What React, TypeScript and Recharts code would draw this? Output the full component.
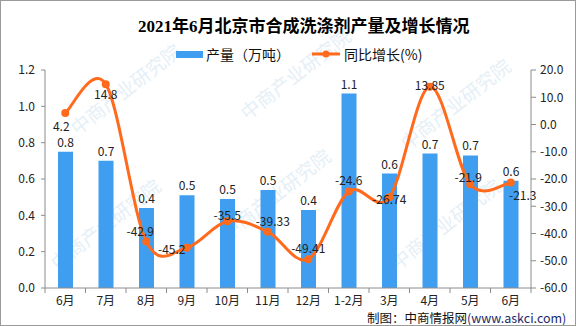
import React from "react";
import {
  ComposedChart,
  Bar,
  Line,
  XAxis,
  YAxis,
  LabelList,
} from "recharts";

// categories and series
const months = ["6月", "7月", "8月", "9月", "10月", "11月", "12月", "1-2月", "3月", "4月", "5月", "6月"];
const output = [0.75, 0.7, 0.44, 0.51, 0.49, 0.54, 0.43, 1.07, 0.63, 0.74, 0.73, 0.59];
const growth = [4.2, 14.8, -42.9, -45.2, -35.5, -39.33, -49.41, -24.6, -26.74, 13.85, -21.9, -21.3];
const leftTicks = [0, 0.2, 0.4, 0.6, 0.8, 1.0, 1.2];
const rightTicks = [-60, -50, -40, -30, -20, -10, 0, 10, 20];

// manual placement of the growth labels (dx, dy from the point)
const growthLabelShift: [number, number][] = [
  [-4, 12], [0, 9], [-6, -11], [-15, 1], [0, -7], [5, -11],
  [0, -12], [0, -12], [0, 1], [0, -2], [-2, -8], [12, 12],
];

const data = months.map((m, i) => ({ month: m, output: output[i], growth: growth[i] }));

const BLUE = "#3F9EEF";
const ORANGE = "#FF6A1C";
const AXIS = "#8c8c8c";
const FONT = "'Noto Sans CJK SC', sans-serif";

// Excel-ish smoothing: catmull-rom through every point
const smoothCurve = (context: any) => {
  let pts: number[][] = [];
  return {
    areaStart() {},
    areaEnd() {},
    lineStart() {
      pts = [];
    },
    point(x: number, y: number) {
      pts.push([+x, +y]);
    },
    lineEnd() {
      if (!pts.length) return;
      context.moveTo(pts[0][0], pts[0][1]);
      for (let i = 0; i < pts.length - 1; i++) {
        const p0 = pts[i - 1] || pts[i];
        const p1 = pts[i];
        const p2 = pts[i + 1];
        const p3 = pts[i + 2] || p2;
        context.bezierCurveTo(
          p1[0] + (p2[0] - p0[0]) / 6,
          p1[1] + (p2[1] - p0[1]) / 6,
          p2[0] - (p3[0] - p1[0]) / 6,
          p2[1] - (p3[1] - p1[1]) / 6,
          p2[0],
          p2[1]
        );
      }
    },
  };
};

const XTick = (props: any) => {
  const { x, y, payload, index } = props;
  const half = 20.25;
  return (
    <g>
      {index === 0 && <line x1={x - half} y1={y} x2={x - half} y2={y + 5} stroke={AXIS} />}
      <line x1={x + half} y1={y} x2={x + half} y2={y + 5} stroke={AXIS} />
      <text x={x} y={y + 17} textAnchor="middle" fontSize={12} fill="#222" fontFamily={FONT}>
        {payload.value}
      </text>
    </g>
  );
};

const GrowthLabel = (props: any) => {
  const { x, y, value, index } = props;
  const [dx, dy] = growthLabelShift[index] || [0, -10];
  return (
    <text
      x={x + dx}
      y={y + dy}
      textAnchor="middle"
      dominantBaseline="central"
      fontSize={12}
      fill="#222"
      fontFamily={FONT}
    >
      {value}
    </text>
  );
};

const watermarks = [
  [130, 95], [300, 80], [460, 110],
  [110, 230], [280, 200], [450, 230],
];

export default function App() {
  return (
    <div
      style={{
        position: "absolute",
        left: 0,
        top: 0,
        width: 576,
        height: 326,
        background: "#fff",
        boxSizing: "border-box",
        border: "1px solid #9a9a9a",
        fontFamily: FONT,
        overflow: "hidden",
      }}
    >
      <svg width={576} height={326} style={{ position: "absolute", left: -1, top: -1 }}>
        {watermarks.map(([x, y], i) => (
          <text
            key={i}
            x={x}
            y={y}
            transform={`rotate(-38 ${x} ${y})`}
            textAnchor="middle"
            fontSize={19}
            fill="#e6eff6"
            fontFamily={FONT}
          >
            中商产业研究院
          </text>
        ))}
      </svg>
      <div style={{ position: "absolute", left: -1, top: -1 }}>
        <ComposedChart
          width={576}
          height={326}
          data={data}
          margin={{ top: 70, right: 0, bottom: 0, left: 0 }}
        >
          <XAxis
            dataKey="month"
            xAxisId="x"
            height={38}
            axisLine={{ stroke: AXIS }}
            tickLine={false}
            tickSize={0}
            tickMargin={0}
            tick={<XTick />}
            interval={0}
          />
          <YAxis
            yAxisId="left"
            width={45}
            domain={[0, 1.2]}
            ticks={leftTicks}
            tickFormatter={(v: number) => v.toFixed(1)}
            axisLine={{ stroke: AXIS }}
            tickLine={{ stroke: AXIS }}
            tickSize={4}
            tickMargin={6}
            tick={{ fontSize: 12, fill: "#222", fontFamily: FONT }}
            interval={0}
          />
          <YAxis
            yAxisId="right"
            orientation="right"
            width={45}
            domain={[-60, 20]}
            ticks={rightTicks}
            tickFormatter={(v: number) => v.toFixed(1)}
            axisLine={{ stroke: AXIS }}
            tickLine={{ stroke: AXIS }}
            tickSize={5}
            tickMargin={4}
            tick={{ fontSize: 12, fill: "#222", fontFamily: FONT }}
            interval={0}
          />
          <Bar
            dataKey="output"
            xAxisId="x"
            yAxisId="left"
            fill={BLUE}
            barSize={15}
            isAnimationActive={false}
          >
            <LabelList
              dataKey="output"
              position="top"
              offset={5}
              formatter={(v: any) => Number(v).toFixed(1)}
              style={{ fontSize: 12, fill: "#222", fontFamily: FONT }}
            />
          </Bar>
          <Line
            dataKey="growth"
            xAxisId="x"
            yAxisId="right"
            type={smoothCurve as any}
            stroke={ORANGE}
            strokeWidth={3}
            dot={{ r: 4, fill: ORANGE, stroke: ORANGE, strokeWidth: 0 }}
            isAnimationActive={false}
          >
            <LabelList dataKey="growth" content={<GrowthLabel />} />
          </Line>
        </ComposedChart>
      </div>
      <div
        style={{
          position: "absolute",
          left: 137,
          top: 14,
          fontSize: 17,
          fontWeight: "bold",
          fontFamily: "'Liberation Serif', 'Noto Sans CJK SC', serif",
          color: "#000",
          whiteSpace: "nowrap",
          lineHeight: "24px",
        }}
      >
        2021年6月北京市合成洗涤剂产量及增长情况
      </div>
      <div
        style={{
          position: "absolute",
          left: 175,
          top: 43,
          display: "flex",
          alignItems: "center",
          fontSize: 14,
          color: "#111",
          whiteSpace: "nowrap",
          lineHeight: "20px",
        }}
      >
        <span style={{ width: 27, height: 7, background: BLUE, display: "inline-block", marginRight: 3 }} />
        <span>产量（万吨）</span>
        <svg width={30} height={10} style={{ marginLeft: 22, marginRight: 2 }}>
          <line x1={0} y1={5} x2={28} y2={5} stroke={ORANGE} strokeWidth={3} />
          <circle cx={14} cy={5} r={3.5} fill={ORANGE} />
        </svg>
        <span>同比增长(%)</span>
      </div>
      <div
        style={{
          position: "absolute",
          left: 366,
          top: 310,
          fontSize: 12.5,
          color: "#111",
          whiteSpace: "nowrap",
          lineHeight: "14px",
        }}
      >
        制图：中商情报网<span style={{ color: "#1c2a6a" }}>(www.askci.com)</span>
      </div>
    </div>
  );
}
